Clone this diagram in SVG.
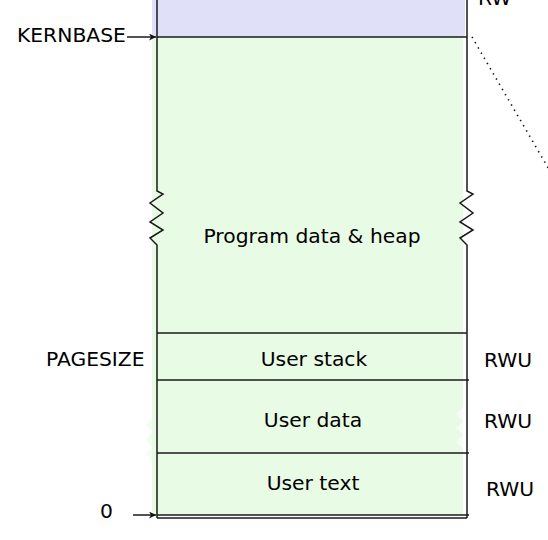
<svg xmlns="http://www.w3.org/2000/svg" width="548" height="540" viewBox="0 0 548 540">
<style>
text{font-family:"DejaVu Sans","Liberation Sans",sans-serif;font-size:20.3px;fill:#000}
.c{text-anchor:middle}
.ln{stroke:#1a1a1a;stroke-width:1.5;fill:none}
.dot{stroke:#111;stroke-width:1.6;stroke-dasharray:1.4 4.6;fill:none}
</style>
<defs>
<marker id="ah" viewBox="0 0 10 10" refX="10" refY="5" markerWidth="10" markerHeight="7" markerUnits="userSpaceOnUse" orient="auto">
<path d="M0,0 L10,5 L0,10 L3,5 z" fill="#111"/>
</marker>
</defs>
<rect width="548" height="540" fill="#fff"/>
<g id="kernel">
<rect x="152" y="0" width="313" height="37" fill="#e0e0f8"/>
<text x="478" y="5">RW</text>
</g>
<g id="user-space-fill">
<rect x="152" y="37" width="311" height="478" fill="#e8fbe4"/>
<polygon points="152,418 146,425 152,432 146,440 152,447 146,454 152,461" fill="#e8fbe4" opacity="0.6"/>
<polygon points="464,407 456,414 463,421 456,428 463,435 456,442 464,449" fill="#fff" opacity="0.6"/>
</g>
<g id="frame">
<path class="ln" d="M157,0 V191 L163,194 L150,203 L163,213 L150,222 L163,230 L150,238 L157,245 V518"/>
<path class="ln" d="M467,0 V191 L473,194 L460,203 L473,213 L460,222 L473,230 L460,238 L467,245 V518"/>
<path class="ln" d="M157,37 H467"/>
<path class="ln" d="M157,518 H467"/>
</g>
<g id="heap">
<text class="c" x="312" y="243">Program data &amp; heap</text>
</g>
<g id="stack">
<path class="ln" d="M157,333 H467"/>
<text class="c" x="314" y="366">User stack</text>
<text x="484" y="367">RWU</text>
</g>
<g id="data">
<path class="ln" d="M157,380 H469"/>
<text class="c" x="313" y="427">User data</text>
<text x="484" y="428">RWU</text>
</g>
<g id="text-seg">
<path class="ln" d="M157,453 H469"/>
<text class="c" x="313" y="490">User text</text>
<text x="486" y="496">RWU</text>
<path class="ln" d="M157,515 H469"/>
</g>
<g id="labels">
<text x="17" y="42">KERNBASE</text>
<text x="46" y="366">PAGESIZE</text>
<text x="100" y="518">0</text>
</g>
<g id="connectors">
<path class="ln" d="M127,37 H156" marker-end="url(#ah)"/>
<path class="ln" d="M133,515 H156" marker-end="url(#ah)"/>
<path class="dot" d="M472,37 L554,178"/>
</g>
</svg>
